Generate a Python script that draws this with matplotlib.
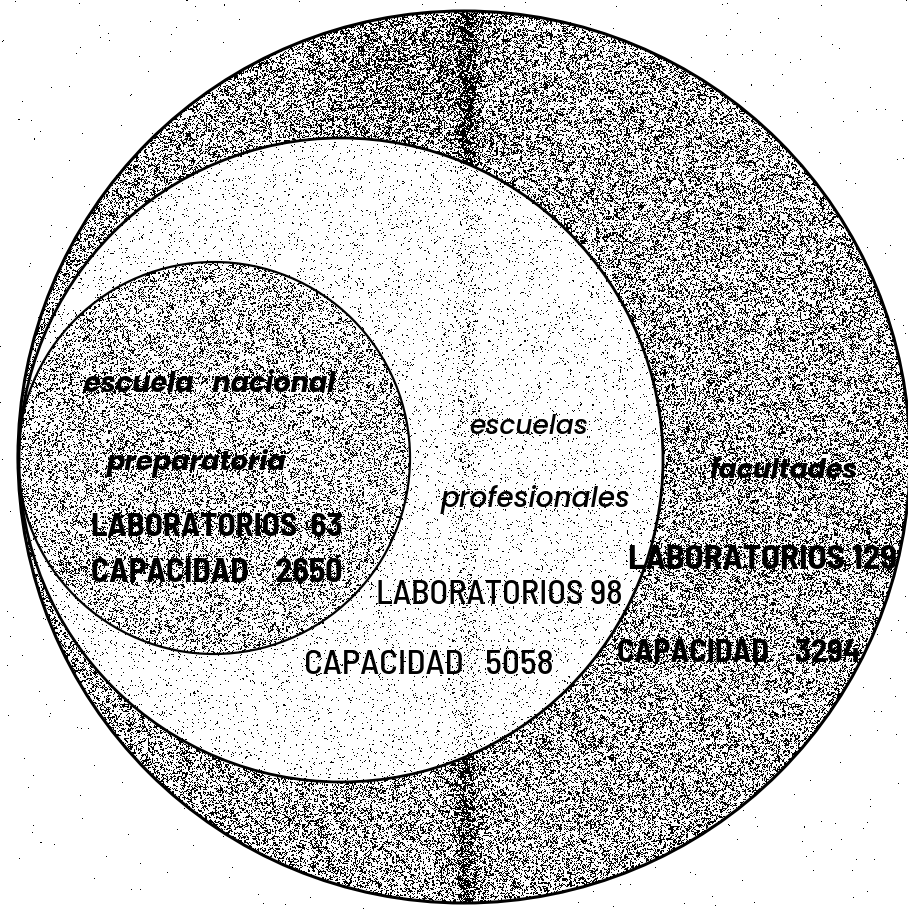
import numpy as np
import matplotlib
matplotlib.use("Agg")
import matplotlib.pyplot as plt
from matplotlib.patches import Circle
from matplotlib import font_manager as fm

# ---- data ----
groups = ["escuela nacional preparatoria", "escuelas profesionales", "facultades"]
name_lines = [["escuela   nacional", "preparatoria"], ["escuelas", "profesionales"], ["facultades"]]
laboratorios = [63, 98, 129]
capacidad = [2650, 5058, 3294]

# ---- layout (pixel coordinates) ----
W, H = 908, 909
circles = {  # cx, cy, r
    "outer": (464, 457, 446),
    "middle": (341, 460, 322),
    "inner": (214, 458, 196),
}

fig = plt.figure(figsize=(W / 100, H / 100), dpi=100)
ax = fig.add_axes([0, 0, 1, 1])
ax.set_xlim(0, W)
ax.set_ylim(H, 0)
ax.axis("off")

# ---- scanned halftone texture ----
rng = np.random.default_rng(7)
yy, xx = np.mgrid[0:H, 0:W] + 0.5
def inside(c):
    cx, cy, r = circles[c]
    return (xx - cx) ** 2 + (yy - cy) ** 2 <= r ** 2

p = np.full((H, W), 0.0012)
band = np.exp(-((xx - 467) / 11.0) ** 2)
band2 = np.exp(-((xx - 400) / 90.0) ** 2) * np.exp(-((yy - 60) / 120.0) ** 2)
outer_p = 0.34 + 0.32 * band + 0.14 * band2
p = np.where(inside("outer"), outer_p, p)
mid_p = 0.04 + 0.10 * band
p = np.where(inside("middle"), mid_p, p)
p = np.where(inside("inner"), 0.26, p)
p = np.clip(p, 0, 0.95)
fine = rng.random((H, W))
coarse = np.kron(rng.random(((H + 1) // 2, (W + 1) // 2)), np.ones((2, 2)))[:H, :W]
noise = 0.55 * fine + 0.45 * coarse
noise = noise.argsort(axis=None).argsort().reshape(H, W) / (H * W)
img = (noise >= p).astype(float)
ax.imshow(img, cmap="gray", vmin=0, vmax=1, extent=(0, W, H, 0),
          interpolation="nearest", zorder=0)

# ---- circle outlines ----
lw = {"outer": 2.2, "middle": 2.0, "inner": 1.6}
for key in ["outer", "middle", "inner"]:
    cx, cy, r = circles[key]
    ax.add_patch(Circle((cx, cy), r, fill=False, edgecolor="black",
                        linewidth=lw[key], zorder=2))

# ---- fonts ----
names = {f.name for f in fm.fontManager.ttflist}

def wval(w):
    if isinstance(w, (int, float)):
        return w
    return {"bold": 700, "normal": 400, "regular": 400, "medium": 500}.get(str(w), 400)

def first(cands, default):
    for c in cands:
        if c in names:
            return c
    return default

def italic_file(cands, target):
    for c in cands:
        best = None
        for f in fm.fontManager.ttflist:
            if f.name == c and f.style in ("italic", "oblique") and "[" not in f.fname:
                d = abs(wval(f.weight) - target)
                if d <= 100 and (best is None or d < best[0]):
                    best = (d, f.fname)
        if best:
            return fm.FontProperties(fname=best[1])
    return fm.FontProperties(family="DejaVu Sans", style="oblique",
                             weight="bold" if target >= 600 else "normal")

cap_family = first(["Barlow Semi Condensed", "Barlow Condensed", "Archivo Narrow",
                    "Cabin Condensed", "Asap Condensed"], "DejaVu Sans")
cap_bold = fm.FontProperties(family=[cap_family, "DejaVu Sans"], weight=700,
                             stretch="condensed" if cap_family == "DejaVu Sans" else "normal")
cap_reg = fm.FontProperties(family=[cap_family, "DejaVu Sans"], weight=500,
                            stretch="condensed" if cap_family == "DejaVu Sans" else "normal")

ITAL = ["Poppins", "Kumbh Sans", "Montserrat", "Nunito Sans", "Lato"]
ital_bold = italic_file(ITAL, 700)
ital_med = italic_file(ITAL, 500)

renderer = fig.canvas.get_renderer()

def fit(t, x0, x1, ha):
    t.set_fontsize(20)
    w = t.get_window_extent(renderer).width
    t.set_fontsize(20 * (x1 - x0) / w)
    t.set_x((x0 + x1) / 2 if ha == "center" else x0)

def it(x0, x1, y, s, fp):
    t = ax.text(0, y, s, ha="center", va="center", fontproperties=fp.copy(), zorder=3)
    fit(t, x0, x1, "center")

def caps(x0, x1, y, s, fp):
    t = ax.text(0, y, s, ha="left", va="center", fontproperties=fp.copy(), zorder=3)
    fit(t, x0, x1, "left")

# inner circle
it(84, 336, 385, name_lines[0][0], ital_bold)
it(107, 287, 463, name_lines[0][1], ital_bold)
caps(91, 342, 527, f"LABORATORIOS  {laboratorios[0]}", cap_bold)
caps(91, 342, 573, f"CAPACIDAD    {capacidad[0]}", cap_bold)

# middle circle
it(469, 588, 428, name_lines[1][0], ital_med)
it(441, 631, 499, name_lines[1][1], ital_med)
caps(376, 622, 596, f"LABORATORIOS {laboratorios[1]}", cap_reg)
caps(304, 553, 666, f"CAPACIDAD   {capacidad[1]}", cap_reg)

# outer ring
it(709, 857, 472, name_lines[2][0], ital_bold)
caps(628, 897, 560, f"LABORATORIOS {laboratorios[2]}", cap_bold)
caps(617, 860, 654, f"CAPACIDAD    {capacidad[2]}", cap_bold)

fig.savefig("out.png", dpi=100)
